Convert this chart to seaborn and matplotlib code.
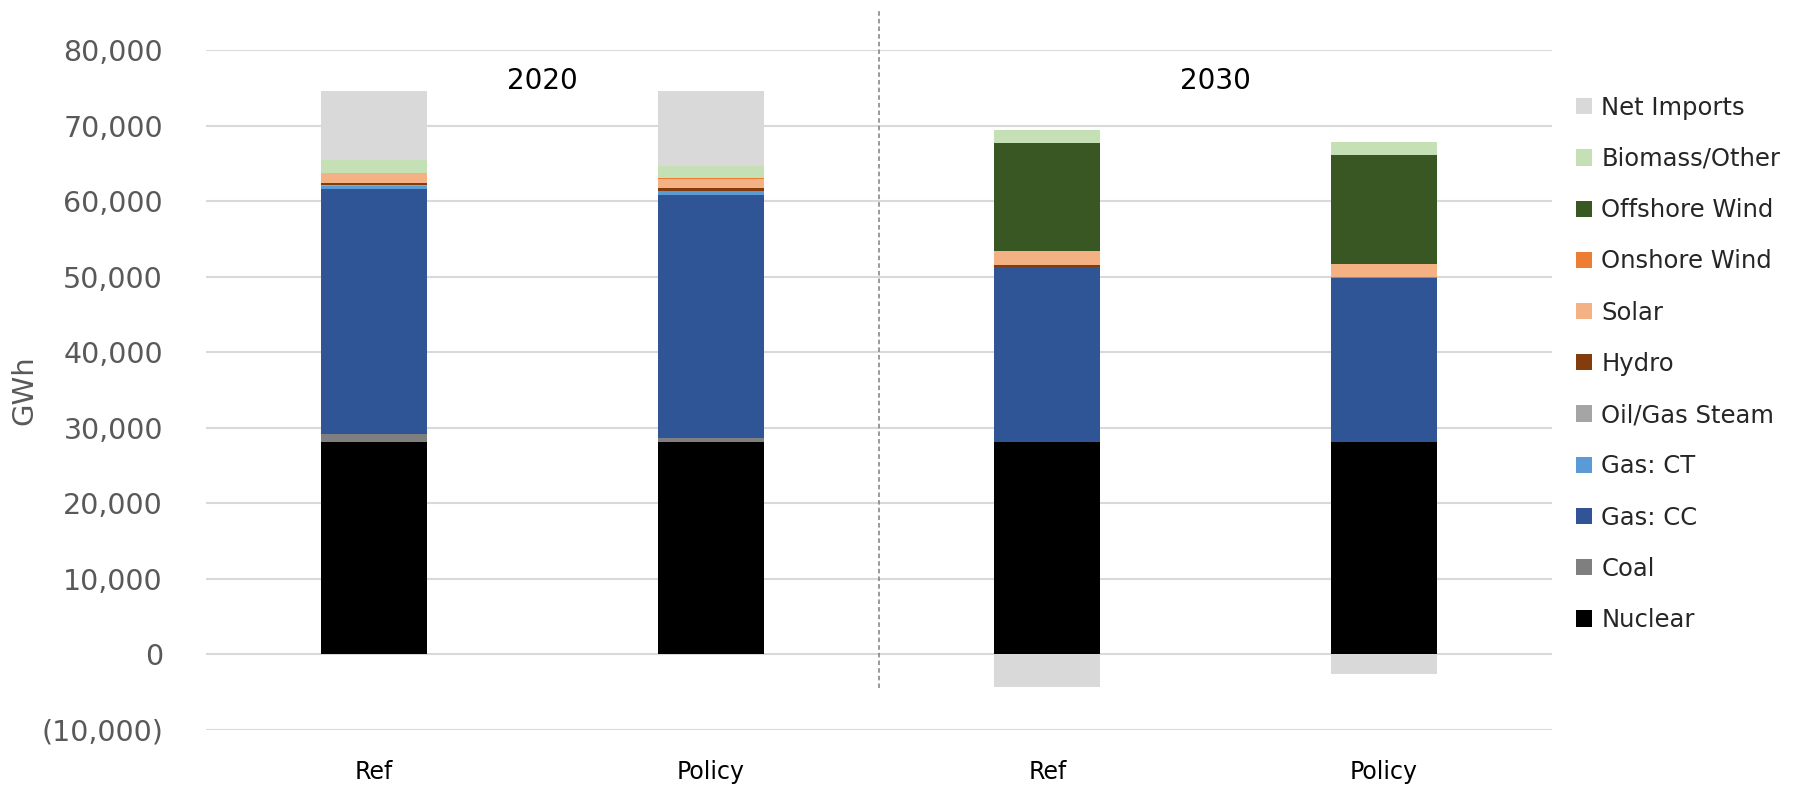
import matplotlib
matplotlib.use("Agg")
import matplotlib.pyplot as plt
from matplotlib.patches import Patch
from matplotlib.ticker import FuncFormatter
import numpy as np
import pandas as pd
import seaborn as sns

# Generation mix by scenario (GWh)
scenarios = ["Ref", "Policy", "Ref", "Policy"]
years = ["2020", "2020", "2030", "2030"]
nuclear = [28100, 28100, 28100, 28100]
coal = [1100, 600, 0, 0]
gas_cc = [32500, 32200, 23200, 21800]
gas_ct = [400, 450, 80, 80]
oil_gas_steam = [50, 50, 0, 0]
hydro = [300, 320, 250, 0]
solar = [1300, 1300, 1750, 1700]
onshore_wind = [50, 50, 30, 30]
offshore_wind = [0, 0, 14300, 14500]
biomass_other = [1700, 1650, 1700, 1650]
net_imports = [9100, 9850, -4300, -2650]

# stacking order, bottom to top
series = [
    ("Nuclear", nuclear, "#000000"),
    ("Coal", coal, "#7f7f7f"),
    ("Gas: CC", gas_cc, "#2f5597"),
    ("Gas: CT", gas_ct, "#5b9bd5"),
    ("Oil/Gas Steam", oil_gas_steam, "#a5a5a5"),
    ("Hydro", hydro, "#843c0c"),
    ("Solar", solar, "#f4b183"),
    ("Onshore Wind", onshore_wind, "#ed7d31"),
    ("Offshore Wind", offshore_wind, "#385723"),
    ("Biomass/Other", biomass_other, "#c5e0b4"),
    ("Net Imports", net_imports, "#d9d9d9"),
]

keys = [f"{y} {s}" for y, s in zip(years, scenarios)]

# cumulative tops of positive contributions
cum = np.zeros(len(keys))
tops = []
for name, vals, color in series:
    v = np.array(vals, dtype=float)
    cum = cum + np.clip(v, 0, None)
    tops.append((name, cum.copy(), color))

neg = np.clip(np.array(net_imports, dtype=float), None, 0)

sns.set_theme(style="white")
plt.rcParams["font.family"] = ["DejaVu Sans"]

fig = plt.figure(figsize=(17.96, 7.89), dpi=100)
ax = fig.add_axes([0.1147, 0.075, 0.7495, 0.861])

bar_w = 0.316
# draw from the top layer down so each lower layer covers the one above
for name, top, color in reversed(tops):
    df = pd.DataFrame({"key": keys, "value": top})
    sns.barplot(data=df, x="key", y="value", order=keys, color=color,
                width=bar_w, saturation=1, linewidth=0, ax=ax, zorder=3)

df_neg = pd.DataFrame({"key": keys, "value": neg})
sns.barplot(data=df_neg, x="key", y="value", order=keys, color="#d9d9d9",
            width=bar_w, saturation=1, linewidth=0, ax=ax, zorder=3)

ax.set_xlim(-0.5, 3.5)
ax.set_ylim(-10000, 80000)
ax.set_yticks(np.arange(-10000, 80001, 10000))


def fmt(v, pos):
    if v < 0:
        return f"({abs(v):,.0f})"
    return f"{v:,.0f}"


ax.yaxis.set_major_formatter(FuncFormatter(fmt))
ax.set_xticks(range(len(keys)))
ax.set_xticklabels(scenarios, fontsize=17, color="#000000")
ax.tick_params(axis="x", length=0, pad=22)
ax.tick_params(axis="y", length=0, labelsize=20.5, labelcolor="#595959", pad=31)
ax.grid(axis="y", color="#d9d9d9", linewidth=1.5, zorder=0)
ax.set_axisbelow(True)
for sp in ax.spines.values():
    sp.set_visible(False)
ax.set_xlabel("")
ax.set_ylabel("GWh", fontsize=21, color="#595959", labelpad=2)

# separator between the two years
ax.plot([1.5, 1.5], [-4400, 85300], linestyle=(0, (3, 2)), color="#7f7f7f",
        linewidth=1.1, clip_on=False, zorder=4)

for yr, xpos in [("2020", 0.5), ("2030", 2.5)]:
    ax.text(xpos, 76000, yr, ha="center", va="center", fontsize=20,
            color="#000000", zorder=5)

handles = [Patch(facecolor=c, edgecolor="none", label=n) for n, _, c in reversed(series)]
fig.legend(handles=handles, loc="upper left", bbox_to_anchor=(0.872, 0.891),
           frameon=False, fontsize=17.5, handlelength=0.65, handleheight=0.65,
           handletextpad=0.4, labelspacing=1.12, borderaxespad=0)

fig.savefig("out.png", dpi=100)
